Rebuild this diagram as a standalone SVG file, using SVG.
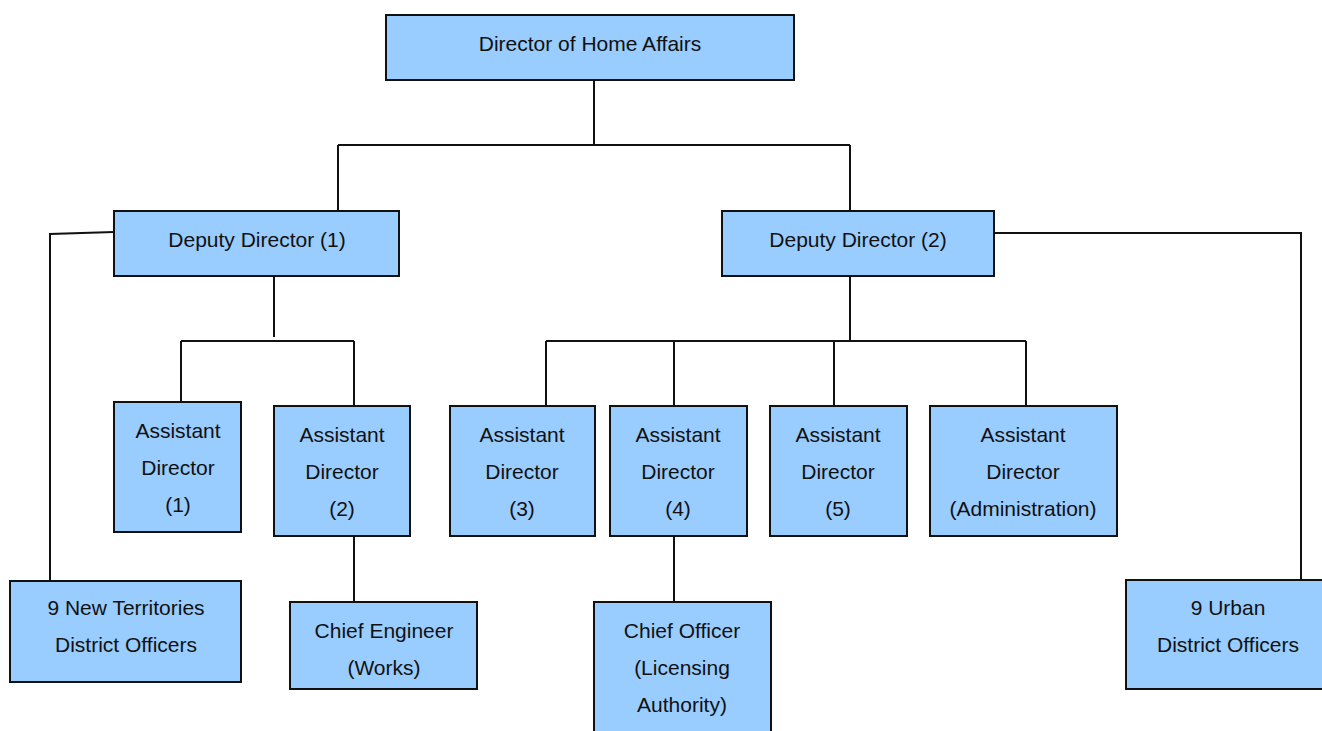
<svg xmlns="http://www.w3.org/2000/svg" width="1322" height="731" viewBox="0 0 1322 731">
<style>
.box{fill:#99CCFF;stroke:#111;stroke-width:2}
.ln{fill:none;stroke:#111;stroke-width:2}
text{font-family:"Liberation Sans",Arial,sans-serif;font-size:21px;fill:#111;text-anchor:middle}
</style>
<rect width="1322" height="731" fill="#fff"/>
<g id="connectors">
<path class="ln" d="M594,80V145M338,145H850M338,145V211M850,145V211"/>
<path class="ln" d="M114,232L50,234V581"/>
<path class="ln" d="M994,233H1301V580"/>
<path class="ln" d="M274,276V337M181,341H354M181,341V402M354,341V406"/>
<path class="ln" d="M850,276V341M546,341H1026M546,341V406M674,341V406M834,341V406M1026,341V406"/>
<path class="ln" d="M354,536V602"/>
<path class="ln" d="M674,536V602"/>
</g>
<g id="director"><rect class="box" x="386" y="15" width="408" height="65"/><text x="590" y="51">Director of Home Affairs</text></g>
<g id="dd1"><rect class="box" x="114" y="211" width="285" height="65"/><text x="257" y="247">Deputy Director (1)</text></g>
<g id="dd2"><rect class="box" x="722" y="211" width="272" height="65"/><text x="858" y="247">Deputy Director (2)</text></g>
<g id="ad1"><rect class="box" x="114" y="402" width="127" height="130"/><text x="178" y="438">Assistant</text><text x="178" y="475">Director</text><text x="178" y="512">(1)</text></g>
<g id="ad2"><rect class="box" x="274" y="406" width="136" height="130"/><text x="342" y="442">Assistant</text><text x="342" y="479">Director</text><text x="342" y="516">(2)</text></g>
<g id="ad3"><rect class="box" x="450" y="406" width="145" height="130"/><text x="522" y="442">Assistant</text><text x="522" y="479">Director</text><text x="522" y="516">(3)</text></g>
<g id="ad4"><rect class="box" x="610" y="406" width="137" height="130"/><text x="678" y="442">Assistant</text><text x="678" y="479">Director</text><text x="678" y="516">(4)</text></g>
<g id="ad5"><rect class="box" x="770" y="406" width="137" height="130"/><text x="838" y="442">Assistant</text><text x="838" y="479">Director</text><text x="838" y="516">(5)</text></g>
<g id="adadmin"><rect class="box" x="930" y="406" width="187" height="130"/><text x="1023" y="442">Assistant</text><text x="1023" y="479">Director</text><text x="1023" y="516">(Administration)</text></g>
<g id="nt"><rect class="box" x="10" y="581" width="231" height="101"/><text x="126" y="615">9 New Territories</text><text x="126" y="652">District Officers</text></g>
<g id="chiefeng"><rect class="box" x="290" y="602" width="187" height="87"/><text x="384" y="638">Chief Engineer</text><text x="384" y="675">(Works)</text></g>
<g id="chiefofficer"><rect class="box" x="594" y="602" width="177" height="140"/><text x="682" y="638">Chief Officer</text><text x="682" y="675">(Licensing</text><text x="682" y="712">Authority)</text></g>
<g id="urban"><rect class="box" x="1126" y="580" width="205" height="109"/><text x="1228" y="615">9 Urban</text><text x="1228" y="652">District Officers</text></g>
</svg>
